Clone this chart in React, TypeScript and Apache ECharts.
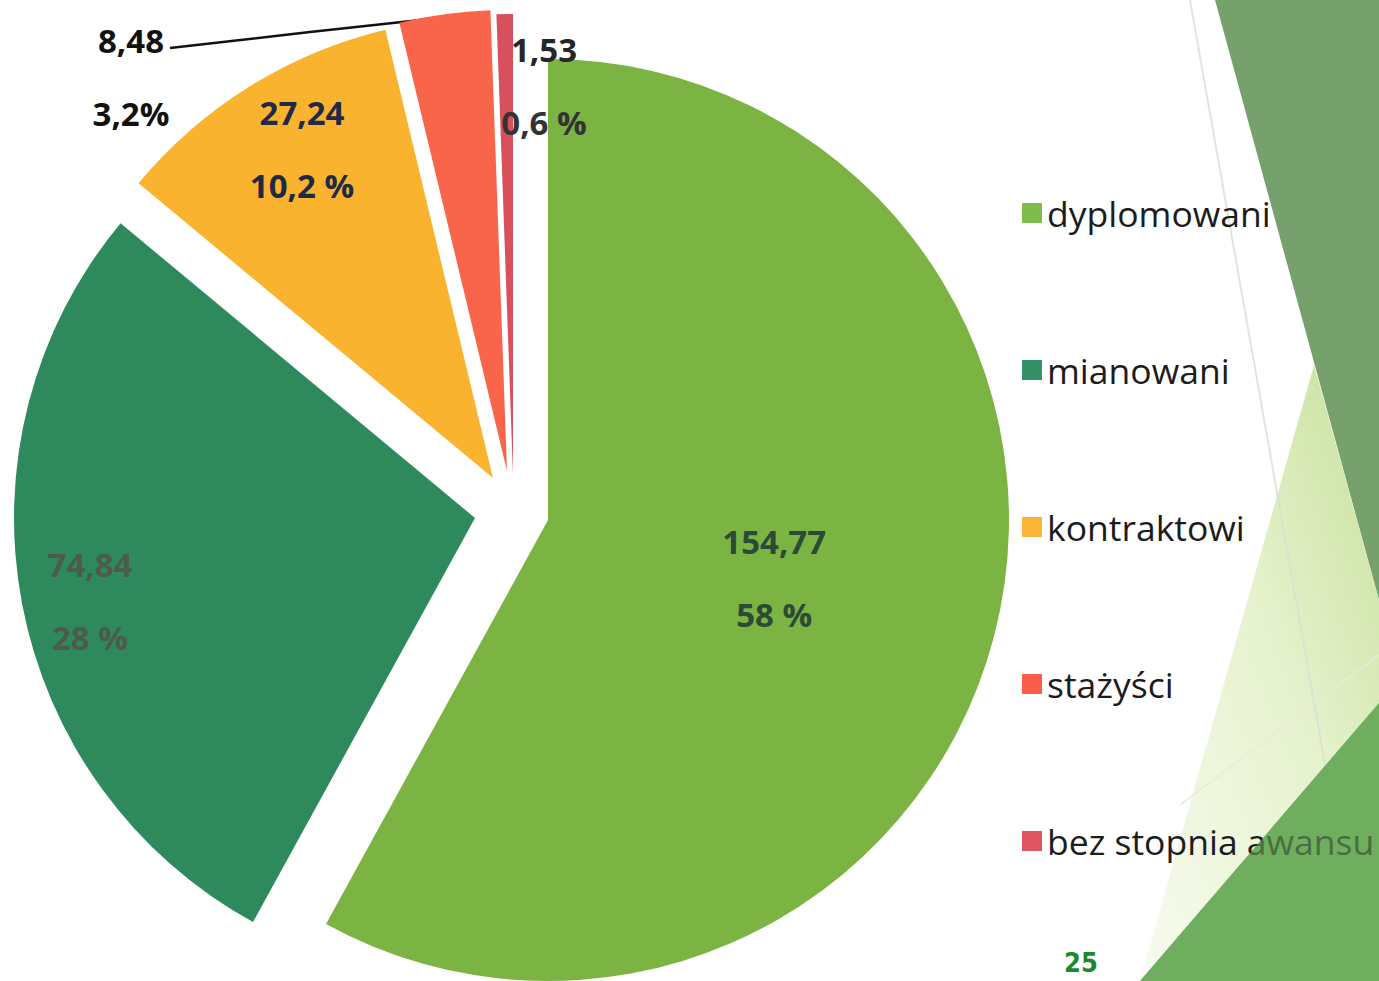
import React, { useEffect, useRef } from 'react';
import * as echarts from 'echarts';

// ---- data ----
const categories = ['dyplomowani', 'mianowani', 'kontraktowi', 'stażyści', 'bez stopnia awansu'];
const values = [154.77, 74.84, 27.24, 8.48, 1.53];
const valueLabels = ['154,77', '74,84', '27,24', '8,48', '1,53'];
const percentLabels = ['58 %', '28 %', '10,2 %', '3,2%', '0,6 %'];
const pageNumber = '25';

// ---- styles / layout ----
const SLICE_COLORS = ['#7cb443', '#2e8a5d', '#fab32f', '#f9654a', '#d8505c'];
const LEGEND_COLORS = ['#7fbc4c', '#35906a', '#fbb638', '#fa5d47', '#df5560'];
const LABEL_COLORS = [
  ['#2c4a36', '#2c4a36'],
  ['#4d5c4a', '#4d5c4a'],
  ['#1f2a44', '#1f2a44'],
  ['#111111', '#111111'],
  ['#262626', '#333333'],
];
const SLICE_CENTERS = [
  [548, 520],
  [475, 518],
  [493, 478],
  [507, 471],
  [513, 475],
];
const RADIUS = 461;
const LABEL_ANCHORS: (number[] | null)[] = [null, [90, 601], [302, 149], [131, 77], [544, 86]];
const STAZ_LINE = [
  [448, 17],
  [310, 32],
  [170, 48],
];
const LABEL_FONT = '"Open Sans", "DejaVu Sans", sans-serif';

export default function App() {
  const ref = useRef<HTMLDivElement>(null);

  useEffect(() => {
    document.body.style.margin = '0';
    if (!ref.current) return;
    const chart = echarts.init(ref.current, null, { renderer: 'svg' });

    const series = categories.map((_, k) => ({
      type: 'pie',
      center: SLICE_CENTERS[k],
      radius: RADIUS,
      startAngle: 90,
      clockwise: true,
      avoidLabelOverlap: false,
      silent: true,
      emphasis: { disabled: true },
      itemStyle: { borderWidth: 0 },
      label: {
        show: false,
        position: k === 3 ? 'outside' : 'inside',
        formatter: () => `{v|${valueLabels[k]}}\n{p|${percentLabels[k]}}`,
        rich: {
          v: {
            fontFamily: LABEL_FONT,
            fontWeight: 'bold',
            fontSize: 33,
            color: LABEL_COLORS[k][0],
            lineHeight: 73,
            align: 'center',
          },
          p: {
            fontFamily: LABEL_FONT,
            fontWeight: 'bold',
            fontSize: 33,
            color: LABEL_COLORS[k][1],
            lineHeight: 73,
            align: 'center',
          },
        },
      },
      labelLine: {
        show: k === 3,
        length: 10,
        length2: 10,
        smooth: false,
        lineStyle: { color: '#111111', width: 2.5 },
      },
      labelLayout:
        LABEL_ANCHORS[k] == null
          ? undefined
          : () => {
              const a = LABEL_ANCHORS[k] as number[];
              const o: any = { x: a[0], y: a[1], align: 'center', verticalAlign: 'middle' };
              if (k === 3) o.labelLinePoints = STAZ_LINE;
              return o;
            },
      data: categories.map((name, i) => ({
        name,
        value: values[i],
        itemStyle: { color: i === k ? SLICE_COLORS[i] : 'rgba(0,0,0,0)' },
        label: { show: i === k },
        labelLine: { show: i === k && k === 3 },
      })),
    }));

    const lightTri = [
      [1314, 365],
      [1379, 600],
      [1379, 981],
      [1140, 981],
    ];
    const medTri = [
      [1379, 703],
      [1379, 981],
      [1140, 981],
    ];

    chart.setOption({
      animation: false,
      backgroundColor: '#ffffff',
      legend: {
        orient: 'vertical',
        left: 1017,
        top: 188,
        itemWidth: 20,
        itemHeight: 20,
        itemGap: 117,
        icon: 'rect',
        selectedMode: false,
        textStyle: { fontFamily: LABEL_FONT, fontSize: 35.5, color: '#1c1c1c', lineHeight: 40 },
        data: categories.map((name, i) => ({
          name,
          itemStyle: { color: LEGEND_COLORS[i], opacity: 1 },
        })),
      },
      graphic: [
        {
          type: 'polygon',
          silent: true,
          z: 0,
          shape: { points: [[1215, 0], [1379, 0], [1379, 600]] },
          style: { fill: '#76a06c' },
        },
        {
          type: 'polygon',
          silent: true,
          z: 0,
          shape: { points: lightTri },
          style: {
            fill: new echarts.graphic.LinearGradient(0, 1, 1, 0, [
              { offset: 0, color: '#f8fbf0' },
              { offset: 0.55, color: '#e6f2cd' },
              { offset: 1, color: '#c6df9a' },
            ]),
          },
        },
        {
          type: 'line',
          silent: true,
          z: 1,
          shape: { x1: 1190, y1: 0, x2: 1326, y2: 770 },
          style: { stroke: '#d9e0d3', lineWidth: 2, opacity: 0.8 },
        },
        {
          type: 'line',
          silent: true,
          z: 1,
          shape: { x1: 1180, y1: 805, x2: 1379, y2: 655 },
          style: { stroke: '#e3ecd8', lineWidth: 2, opacity: 0.8 },
        },
        {
          type: 'polygon',
          silent: true,
          z: 1,
          shape: { points: medTri },
          style: { fill: '#70ae5e' },
        },
        {
          type: 'polygon',
          silent: true,
          z: 20,
          shape: { points: medTri },
          style: { fill: '#70ae5e', opacity: 0.55 },
        },
        {
          type: 'text',
          silent: true,
          z: 20,
          x: 1064,
          y: 949,
          style: {
            text: pageNumber,
            fill: '#1b8a2c',
            font: 'bold 27px "Liberation Sans Narrow", "DejaVu Sans Condensed", sans-serif',
          },
        },
      ],
      series,
    });

    return () => chart.dispose();
  }, []);

  return <div ref={ref} style={{ width: 1379, height: 981 }} />;
}
